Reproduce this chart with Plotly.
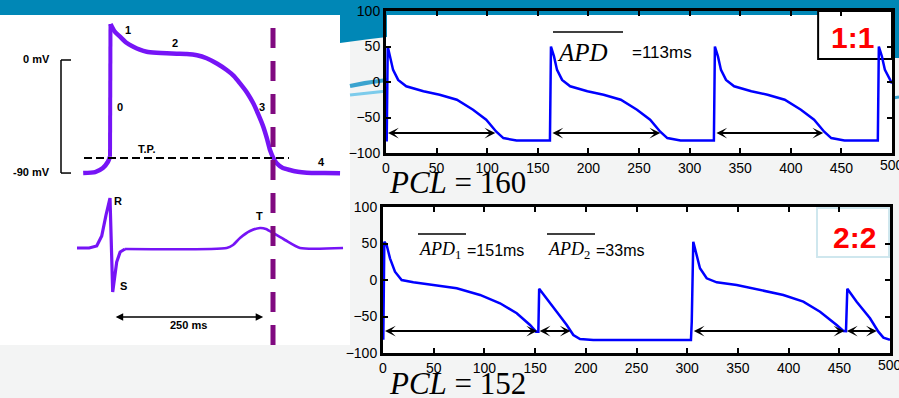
import plotly.graph_objects as go

W, H = 899, 398
def PX(x): return x / W
def PY(y): return 1 - y / H

# ---------------- data ----------------
# schematic ventricular action potential (time ms, membrane potential mV)
ap_foot_t = [-45, -25, -12, -3.5, 0]
ap_foot_v = [-90, -89.2, -86, -81, -77]
ap_peak_t = 0.8
ap_peak_v = 28.7
ap_repol_t = [0.8, 8, 16.8, 27, 39.1, 50, 61.6, 78, 95.1, 112, 128.7, 146, 162.2, 180,
              195.8, 208, 218.1, 230, 240.4, 249, 257.2, 263, 268.5, 274, 279.7, 290,
              302, 315, 330, 360, 386]
ap_repol_v = [28.7, 22.5, 18.6, 14.0, 10.6, 8.2, 6.6, 5.8, 5.3, 5.0, 4.8, 3.8, 1.4, -3.0,
              -8.0, -12.8, -18.6, -26.0, -34.5, -43.5, -53.1, -62.0, -71.7, -78.0, -82.2,
              -86.0, -87.6, -89.0, -89.7, -90.0, -90.2]
ap_tick_labels = ["0 mV", "-90 mV"]
ap_tick_values = [0, -90]
threshold_mv = -78

# schematic ECG (time ms, mV)
ecg_qrs_t = [-55.4, -35, -22.3, -13.9, -6.7, 0, 4.5, 8, 11.2, 17, 25.2]
ecg_qrs_v = [0, 0, 0.04, 0.24, 0.66, 1.0, -0.88, -0.55, -0.28, -0.08, -0.02]
ecg_t_t = [25.2, 195.8, 206.4, 218.1, 234.9, 251.7, 261.7, 273.5, 293.6, 318.8, 391]
ecg_t_v = [-0.02, 0, 0.06, 0.2, 0.34, 0.4, 0.38, 0.3, 0.16, 0, 0]
qt_marker_ms = 273.5
interval_ms = [7, 257]

# simulated AP, PCL = 160 (1:1)
pcl160_t = [0, 0.7, 1.7, 4, 7, 12, 20, 37, 53, 70, 86, 99, 109, 116, 129, 161.5,
            162, 163, 166, 169, 174, 182, 199, 215, 232, 248, 261, 271, 278, 291, 323.5,
            324, 325, 328, 331, 336, 344, 361, 377, 394, 410, 423, 433, 440, 453, 485.5,
            486, 487, 490, 493, 498, 500]
pcl160_v = [-82, -82, 50, 36, 17, 3, -6, -13, -18, -25, -39, -53, -70, -79, -82.5, -82.5,
            -82.5, 50, 36, 17, 3, -6, -13, -18, -25, -39, -53, -70, -79, -82.5, -82.5,
            -82.5, 50, 36, 17, 3, -6, -13, -18, -25, -39, -53, -70, -79, -82.5, -82.5,
            -82.5, 50, 36, 17, 3, -2]
apd160_start = [0.5, 163, 325]
apd160_end = [108, 271, 432]
apd160_level = -72

# simulated AP, PCL = 152 (2:2)
pcl152_t = [0, 0.3, 1.3, 3.6, 6.9, 11.8, 18.4, 29.9, 49.6, 72.7, 95.7, 115.4, 131.9, 145,
            150.9, 153.2, 154, 161.4, 171.3, 181.2, 187.7, 194.3, 207.4, 303.7, 304.5, 306,
            308.7, 312.6, 319.2, 329.1, 348.8, 371.8, 394.8, 414.5, 431, 447.4, 454, 456.6,
            457.9, 467.1, 480.3, 488.5, 493.5, 500]
pcl152_v = [-80, -80, 52.5, 48, 29.7, 11.4, 0, -3.2, -6.8, -11.4, -20.5, -31.9, -45.6, -61.6,
            -70.8, -70.8, -12, -25, -43.4, -61.6, -75.3, -80.8, -82.2, -82.2, -57, 52.5,
            38.8, 16, 2.3, -3.2, -6.8, -13.7, -20.5, -29.7, -43.4, -61.6, -69.9, -70,
            -12, -29.7, -52.5, -70.8, -79, -82]
apd152_start = [0.5, 153, 305, 456]
apd152_end = [152, 185, 455, 487]
apd152_level = -70

x_ticks = [0, 50, 100, 150, 200, 250, 300, 350, 400, 450, 500]
y_ticks = [-100, -50, 0, 50, 100]

# ---------------- figure ----------------
PURPLE = "#7614f6"
TEAL = "#0087b6"
SANS = "Liberation Sans, Arial, sans-serif"
SERIF = "Liberation Serif, Times New Roman, serif"

fig = go.Figure()
fig.add_trace(go.Scatter(x=ap_foot_t, y=ap_foot_v, xaxis="x3", yaxis="y3", mode="lines",
                         line=dict(color=PURPLE, width=4.5, shape="spline", smoothing=0.6),
                         hoverinfo="skip"))
fig.add_trace(go.Scatter(x=[ap_foot_t[-1], ap_peak_t], y=[ap_foot_v[-1], ap_peak_v],
                         xaxis="x3", yaxis="y3", mode="lines",
                         line=dict(color=PURPLE, width=4), hoverinfo="skip"))
fig.add_trace(go.Scatter(x=ap_repol_t, y=ap_repol_v, xaxis="x3", yaxis="y3", mode="lines",
                         line=dict(color=PURPLE, width=4.5, shape="spline", smoothing=0.6),
                         hoverinfo="skip"))
fig.add_trace(go.Scatter(x=ecg_qrs_t, y=ecg_qrs_v, xaxis="x3", yaxis="y4", mode="lines",
                         line=dict(color=PURPLE, width=3.2), hoverinfo="skip"))
fig.add_trace(go.Scatter(x=ecg_t_t, y=ecg_t_v, xaxis="x3", yaxis="y4", mode="lines",
                         line=dict(color=PURPLE, width=2.6, shape="spline", smoothing=0.6),
                         hoverinfo="skip"))
fig.add_trace(go.Scatter(x=pcl160_t, y=pcl160_v, xaxis="x", yaxis="y", mode="lines",
                         line=dict(color="#0000ff", width=2.5)))
fig.add_trace(go.Scatter(x=pcl152_t, y=pcl152_v, xaxis="x2", yaxis="y2", mode="lines",
                         line=dict(color="#0000ff", width=2.5)))

TICKFONT = dict(family=SANS, size=14, color="black")
axis_common = dict(range=[0, 500], tickvals=x_ticks, ticks="inside", ticklen=5, tickwidth=2,
                   tickcolor="black", showline=True, linecolor="black", linewidth=3,
                   mirror="allticks", showgrid=False, zeroline=False, automargin=False,
                   tickfont=TICKFONT)
yaxis_common = dict(axis_common, range=[-100, 100], tickvals=y_ticks)

fig.update_layout(
    width=W, height=H, margin=dict(l=0, r=0, t=0, b=0, autoexpand=False),
    paper_bgcolor="#f3f4f4", plot_bgcolor="white", showlegend=False,
    xaxis=dict(axis_common, domain=[PX(386), PX(892)], anchor="y"),
    yaxis=dict(yaxis_common, domain=[PY(153), PY(11)], anchor="x"),
    xaxis2=dict(axis_common, domain=[PX(383), PX(890)], anchor="y2"),
    yaxis2=dict(yaxis_common, domain=[PY(353), PY(207)], anchor="x2"),
    xaxis3=dict(domain=[0, PX(350)], range=[-184.6, 402.7], visible=False, anchor="y3"),
    yaxis3=dict(domain=[PY(190), PY(15)], range=[-103.5, 35.83], visible=False, anchor="x3"),
    yaxis4=dict(domain=[PY(345), PY(190)], range=[-1.94, 1.16], visible=False, anchor="x3"),
)

shapes = []
# background decoration
shapes.append(dict(type="rect", xref="paper", yref="paper", x0=0, x1=1, y0=PY(15), y1=1,
                   fillcolor=TEAL, line_width=0, layer="below"))
shapes.append(dict(type="path", xref="paper", yref="paper", layer="below", fillcolor=TEAL,
                   line_width=0,
                   path=f"M{PX(340)},{PY(0)} L{PX(340)},{PY(43)} L{PX(355)},{PY(41)} "
                        f"L{PX(370)},{PY(39)} L{PX(387)},{PY(37)} L{PX(387)},{PY(0)} Z"))
shapes.append(dict(type="rect", xref="paper", yref="paper", x0=PX(892), x1=1, y0=PY(58), y1=1,
                   fillcolor=TEAL, line_width=0, layer="below"))
shapes.append(dict(type="path", xref="paper", yref="paper", layer="below",
                   line=dict(color="#3aa3cf", width=4),
                   path=f"M{PX(350)},{PY(86)} Q{PX(368)},{PY(82)} {PX(387)},{PY(80)}"))
shapes.append(dict(type="path", xref="paper", yref="paper", layer="below",
                   line=dict(color="#7ccbeb", width=3),
                   path=f"M{PX(350)},{PY(95)} Q{PX(368)},{PY(93)} {PX(387)},{PY(91)}"))
shapes.append(dict(type="line", xref="paper", yref="paper", layer="below",
                   x0=PX(893), x1=1, y0=PY(98), y1=PY(97), line=dict(color="#3aa3cf", width=3)))

# left schematic: mV bracket and threshold line
shapes.append(dict(type="line", xref="paper", yref="y3", x0=PX(61), x1=PX(61),
                   y0=ap_tick_values[0], y1=ap_tick_values[1], line=dict(color="black", width=1.5)))
for v in ap_tick_values:
    shapes.append(dict(type="line", xref="paper", yref="y3", x0=PX(61), x1=PX(71), y0=v, y1=v,
                       line=dict(color="black", width=1.5)))
shapes.append(dict(type="line", xref="paper", yref="y3", x0=PX(84), x1=PX(289),
                   y0=threshold_mv, y1=threshold_mv,
                   line=dict(color="black", width=2, dash="8px,4px")))
shapes.append(dict(type="line", xref="x3", yref="paper", x0=qt_marker_ms, x1=qt_marker_ms,
                   y0=PY(345), y1=PY(24), layer="above",
                   line=dict(color="#800a80", width=5, dash="20px,13px")))

# ratio boxes
shapes.append(dict(type="rect", xref="x domain", yref="y domain", x0=0.854, x1=1.0,
                   y0=0.662, y1=1.0, fillcolor="white", line=dict(color="black", width=2),
                   layer="below"))
shapes.append(dict(type="rect", xref="x2 domain", yref="y2 domain", x0=0.856, x1=0.998,
                   y0=0.658, y1=0.993, fillcolor="white", line=dict(color="#cfe7ee", width=2),
                   layer="below"))

# overlines for APD
for (x0, x1, y) in [(553, 623, 32), (418, 466, 234), (547, 595, 234)]:
    shapes.append(dict(type="line", xref="paper", yref="paper", x0=PX(x0), x1=PX(x1),
                       y0=PY(y), y1=PY(y), line=dict(color="black", width=1.3), layer="above"))
fig.update_layout(shapes=shapes)

ann = []
def txt(x, y, s, size, family=SANS, color="black", xanchor="center", bold=False):
    ann.append(dict(x=PX(x), y=PY(y), xref="paper", yref="paper", showarrow=False,
                    text=f"<b>{s}</b>" if bold else s, xanchor=xanchor, yanchor="middle",
                    font=dict(family=family, size=size, color=color)))

# left schematic labels
txt(52, 59, ap_tick_labels[0], 11, xanchor="right", bold=True)
txt(52, 172, ap_tick_labels[1], 11, xanchor="right", bold=True)
for s, x, y in [("1", 128, 30), ("2", 175, 43), ("0", 120, 107), ("3", 262, 107),
                ("4", 321, 162), ("T.P.", 147, 149), ("R", 118, 201), ("S", 123, 286),
                ("T", 259, 216)]:
    txt(x, y, s, 11, bold=True)
txt(188, 325, "250 ms", 11, bold=True)
ann.append(dict(x=interval_ms[1], y=-1.38, ax=interval_ms[0], ay=-1.38, xref="x3", yref="y4",
                axref="x3", ayref="y4", text="", showarrow=True, arrowside="end+start",
                arrowhead=2, startarrowhead=2, arrowsize=1, startarrowsize=1,
                arrowwidth=1.5, arrowcolor="black"))

# last x tick label (cut by the page edge in the original)
for xr, yr in [("x", "y"), ("x2", "y2")]:
    ann.append(dict(x=x_ticks[-1], y=0, xref=xr, yref=f"{yr} domain", showarrow=False,
                    text=str(x_ticks[-1]), xanchor="center", yanchor="top", yshift=-2,
                    font=TICKFONT))

# APD arrows
for s, e in zip(apd160_start, apd160_end):
    ann.append(dict(x=e, y=apd160_level, ax=s, ay=apd160_level, xref="x", yref="y",
                    axref="x", ayref="y", text="", showarrow=True, arrowside="end+start",
                    arrowhead=3, startarrowhead=3, arrowsize=0.9, startarrowsize=0.9,
                    arrowwidth=2, arrowcolor="black"))
for s, e in zip(apd152_start, apd152_end):
    ann.append(dict(x=e, y=apd152_level, ax=s, ay=apd152_level, xref="x2", yref="y2",
                    axref="x2", ayref="y2", text="", showarrow=True, arrowside="end+start",
                    arrowhead=3, startarrowhead=3, arrowsize=0.9, startarrowsize=0.9,
                    arrowwidth=2, arrowcolor="black"))

# right panel texts
txt(555, 52, "<i>APD</i>", 25, family=SERIF, xanchor="left")
txt(630, 52, "=113ms", 17, xanchor="left")
txt(417, 250, "<i>APD</i><sub>1</sub>", 18, family=SERIF, xanchor="left")
txt(465, 250, "=151ms", 16, xanchor="left")
txt(546, 250, "<i>APD</i><sub>2</sub>", 18, family=SERIF, xanchor="left")
txt(594, 250, "=33ms", 16, xanchor="left")
txt(852, 38, "1:1", 30, color="#ff0000", bold=True)
txt(854, 237, "2:2", 30, color="#ff0000", bold=True)
txt(387, 182, "<i>PCL</i> = 160", 31, family=SERIF, xanchor="left")
txt(387, 383, "<i>PCL</i> = 152", 31, family=SERIF, xanchor="left")

fig.update_layout(annotations=ann)
fig.write_html("out.html")
